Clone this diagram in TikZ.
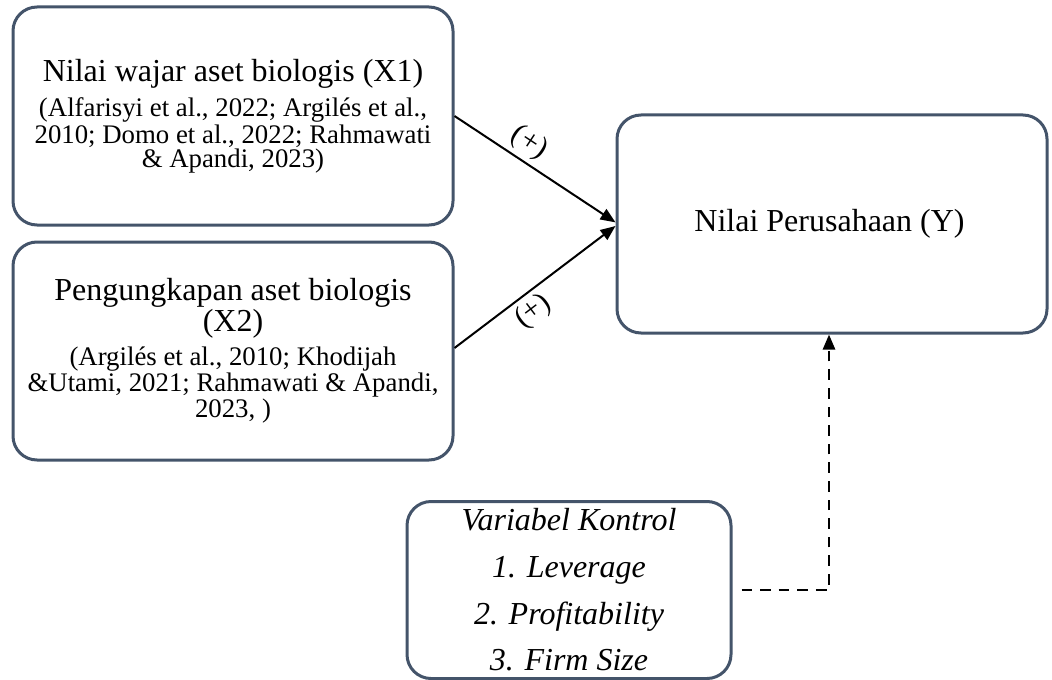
\documentclass[tikz,border=0pt]{standalone}
\usepackage{fontspec}
\setmainfont{Liberation Serif}
\usepackage{xcolor}
\usetikzlibrary{arrows.meta,positioning}
\definecolor{slate}{RGB}{68,84,106}
\newcommand{\ttl}{\fontsize{16}{19}\selectfont}
\newcommand{\cit}{\fontsize{13.4}{14}\selectfont}

\begin{document}
\begin{tikzpicture}[x=0.5pt, y=-0.5pt,
  box/.style={draw=slate, line width=1.5pt, rounded corners=12pt, align=center,
              inner sep=0pt},
  arr/.style={-{Triangle[length=7.5pt, width=6pt]}, line width=1pt},
  sign/.style={font=\fontsize{15}{15}\selectfont, sloped, inner sep=2pt}
]
\useasboundingbox (0,0) rectangle (1052,679);
\node[box, minimum width=220pt, minimum height=109pt] (x1) at (233,116) {
  {\ttl Nilai wajar aset biologis (X1)}\\[4pt]
  {\cit (Alfarisyi et al., 2022; Argilés et al.,}\\
  {\cit 2010; Domo et al., 2022; Rahmawati}\\
  {\cit \& Apandi, 2023)}
};
\node[box, minimum width=220pt, minimum height=109pt] (x2) at (233,351) {
  {\ttl Pengungkapan aset biologis}\\
  {\ttl (X2)}\\[3pt]
  {\cit (Argilés et al., 2010; Khodijah}\\
  {\cit \&Utami, 2021; Rahmawati \& Apandi,}\\
  {\cit 2023, )}
};
\node[box, minimum width=215pt, minimum height=109pt] (y) at (832,224) {
  {\ttl Nilai Perusahaan (Y)}
};
\node[box, minimum width=162pt, minimum height=88.5pt, font=\ttl\itshape] (ctrl) at (569,590) {
  Variabel Kontrol\\[4.3pt]
  1. Leverage\\[4.3pt]
  2. Profitability\\[4.3pt]
  3. Firm Size
};
\draw[arr] (x1.east) -- node[sign, above, pos=0.4] {(+)} ([yshift=0.8pt]y.west);
\draw[arr] ([yshift=1.5pt]x2.east) -- node[sign, below, pos=0.42] {(+)} ([yshift=-1pt]y.west);
\draw[arr, line width=1.3pt, dash pattern=on 5.3pt off 4pt] ([xshift=4.5pt]ctrl.east) -| ([xshift=-1.5pt]y.south);
\end{tikzpicture}
\end{document}
